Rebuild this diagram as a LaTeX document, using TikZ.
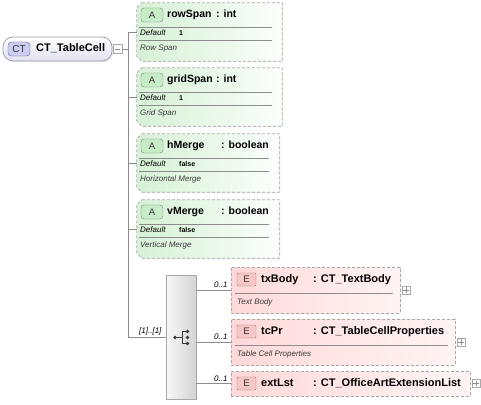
\documentclass[tikz,border=0pt]{standalone}
\usepackage{fontspec}
\setmainfont{Liberation Sans}
\usetikzlibrary{shadows}
\definecolor{linegray}{HTML}{8C8C8C}
\definecolor{boxgray}{HTML}{A8A8A8}
\definecolor{attrfill}{HTML}{D6F1D6}
\definecolor{attrbadge}{HTML}{C8ECC8}
\definecolor{attrbadgeb}{HTML}{6E8A6E}
\definecolor{elemfill}{HTML}{FFD9D9}
\definecolor{elembadge}{HTML}{F7C6C6}
\definecolor{elembadgeb}{HTML}{B07070}
\definecolor{rootfill}{HTML}{E2E2F0}
\definecolor{rootbadge}{HTML}{CDCDF2}
\definecolor{rootbadgeb}{HTML}{5E5E96}
\definecolor{seqfill}{HTML}{D4D4D4}
\definecolor{desccol}{HTML}{3A3A3A}
\definecolor{dotcol}{HTML}{3C3C3C}

\tikzset{
  conn/.style={draw=linegray, line width=0.8pt},
  sepline/.style={draw=linegray, line width=0.6pt},
  titletext/.style={font=\fontsize{11pt}{13pt}\selectfont\bfseries, inner sep=0pt, anchor=west, text height=8pt, text depth=2.3pt},
  atitletext/.style={font=\fontsize{10.5pt}{12.5pt}\selectfont\bfseries, inner sep=0pt, anchor=west, text height=8pt, text depth=2.3pt},
  deftext/.style={font=\fontsize{8pt}{9pt}\selectfont\itshape, inner sep=0pt, anchor=west, text height=6pt, text depth=1.6pt},
  defval/.style={font=\fontsize{7pt}{8pt}\selectfont\bfseries, inner sep=0pt, anchor=west, text height=5.2pt, text depth=1.4pt},
  desctext/.style={font=\fontsize{8pt}{9pt}\selectfont\itshape, text=desccol, inner sep=0pt, anchor=west, text height=6pt, text depth=1.6pt},
  cardtext/.style={font=\fontsize{8pt}{9pt}\selectfont\itshape, inner sep=0pt},
  attrnode/.style={rectangle, draw=none, inner sep=0pt, minimum height=58pt},
  attrshape/.style={draw=boxgray, dash pattern=on 3pt off 2pt, left color=attrfill, right color=attrfill!8, line width=0.7pt, drop shadow={shadow xshift=1.2pt, shadow yshift=-1.2pt, opacity=0.12}},
  abadge/.style={rectangle, rounded corners=3pt, draw=attrbadgeb, fill=attrbadge, minimum width=22pt, minimum height=14pt, inner sep=0pt, font=\fontsize{9.5pt}{11pt}\selectfont, text=black!80},
  elembox/.style={rectangle, draw=boxgray, dash pattern=on 3pt off 2pt, left color=elemfill, right color=elemfill!30, inner sep=0pt, line width=0.7pt, drop shadow={shadow xshift=1.2pt, shadow yshift=-1.2pt, opacity=0.12}},
  ebadge/.style={rectangle, rounded corners=1pt, draw=elembadgeb, fill=elembadge, minimum width=19pt, minimum height=13pt, inner sep=0pt, font=\fontsize{9.5pt}{11pt}\selectfont, text=black!80},
  rootbox/.style={rectangle, rounded corners=10pt, draw=boxgray!90!blue, top color=white, bottom color=rootfill, minimum width=109pt, minimum height=24pt, inner sep=0pt, line width=0.7pt, drop shadow={shadow xshift=1.2pt, shadow yshift=-1.2pt, opacity=0.15}},
  ctbadge/.style={rectangle, rounded corners=3.5pt, draw=rootbadgeb, fill=rootbadge, minimum width=22pt, minimum height=14pt, inner sep=0pt, font=\fontsize{10pt}{12pt}\selectfont, text=black!80},
  tinybox/.style={rectangle, draw=boxgray, fill=white, minimum width=8pt, minimum height=8pt, inner sep=0pt, line width=0.6pt},
  seqbox/.style={rectangle, draw=boxgray, left color=white!97!black, right color=seqfill, minimum width=30pt, minimum height=124pt, inner sep=0pt, line width=0.7pt},
}

\newcommand\attrib[9]{%
  \node[attrnode, minimum width=#4pt] (#1) at (#2,#3) {};
  \path[attrshape] ([xshift=5pt]#1.north west) -- (#1.north east) -- (#1.south east) -- ([xshift=5pt]#1.south west) -- ([yshift=5pt]#1.south west) -- ([yshift=-5pt]#1.north west) -- cycle;
  \node[abadge] (#1-badge) at (152,{#3-17}) {A};
  \node[atitletext] (#1-name) at (167,{#3-17}) {#5};
  \node[atitletext] (#1-type) at (#7,{#3-17}) {#6};
  \draw[sepline] (139,{#3-5}) -- ({#2+#4/2-10},{#3-5});
  \node[deftext] (#1-def) at (140,{#3+1.5}) {Default};
  \node[defval] (#1-val) at (179,{#3+1.5}) {#8};
  \draw[sepline] (139,{#3+8}) -- ({#2+#4/2-10},{#3+8});
  \node[desctext] (#1-desc) at (140,{#3+16.5}) {#9};
}

\newcommand\elem[7]{%
  \node[elembox, minimum width=#4pt, minimum height=#5pt] (#1) at (#2,#3) {};
  \node[ebadge] (#1-badge) at (246.5,{#3-#5/2+12.5}) {E};
  \node[titletext] (#1-name) at (261,{#3-#5/2+13}) {#6};
  \node[titletext] (#1-type) at (313,{#3-#5/2+13}) {#7};
  \node[tinybox] (#1-plus) at ({#2+#4/2+6},#3) {};
  \draw[draw=linegray, line width=0.6pt] ([xshift=1.5pt]#1-plus.west) -- ([xshift=-1.5pt]#1-plus.east);
  \draw[draw=linegray, line width=0.6pt] ([yshift=-1.5pt]#1-plus.north) -- ([yshift=1.5pt]#1-plus.south);
}

\begin{document}
\begin{tikzpicture}[x=1pt,y=-1pt]
\useasboundingbox (0,0) rectangle (481,404);

% root
\node[rootbox] (root) at (57.5,49) {};
\node[ctbadge] (rootbadge) at (19,49) {CT};
\node[titletext] (rootname) at (36,49) {CT\_TableCell};
\node[tinybox, minimum width=9pt, minimum height=9pt] (rootminus) at (117.5,49) {};
\draw[draw=linegray, line width=0.6pt] ([xshift=2pt]rootminus.west) -- ([xshift=-2pt]rootminus.east);

% attributes
\attrib{rowSpan}{209.5}{32}{145}{rowSpan}{: int}{216}{1}{Row Span}
\attrib{gridSpan}{209.5}{97}{145}{gridSpan}{: int}{216}{1}{Grid Span}
\attrib{hMerge}{208}{163}{142}{hMerge}{: boolean}{221}{false}{Horizontal Merge}
\attrib{vMerge}{208}{229}{142}{vMerge}{: boolean}{221}{false}{Vertical Merge}

% sequence compositor
\node[seqbox] (seq) at (181,337) {};
\fill[dotcol] (175,337.5) circle (1.8pt);
\draw[dotcol, line width=0.8pt] (175,337.5) -- (182,337.5);
\draw[dotcol, line width=0.8pt] (182,331.5) -- (182,343.5);
\draw[dotcol, line width=0.8pt] (182,331.5) -- (187.5,331.5);
\draw[dotcol, line width=0.8pt] (182,343.5) -- (187.5,343.5);
\fill[dotcol] (187.5,331.5) circle (1.8pt);
\fill[dotcol] (187.5,337.5) circle (1.8pt);
\fill[dotcol] (187.5,343.5) circle (1.8pt);

% elements
\elem{txBody}{315.5}{290}{169}{46}{txBody}{: CT\_TextBody}
\draw[sepline] (235,293) -- (393,293);
\node[desctext] (txBody-desc) at (237,302) {Text Body};
\elem{tcPr}{343}{342}{224}{46}{tcPr}{: CT\_TableCellProperties}
\draw[sepline] (235,345) -- (448,345);
\node[desctext] (tcPr-desc) at (237,354) {Table Cell Properties};
\elem{extLst}{350.5}{383.5}{239}{25}{extLst}{: CT\_OfficeArtExtensionList}

% connectors
\coordinate (tk0) at (128,49);
\coordinate (tkA) at (128,32);
\coordinate (tkE) at (128,337);
\draw[conn] (rootminus.east) -- (tk0);
\draw[conn] (tkA) -- (tkE);
\draw[conn] (rowSpan.west -| tkA) -- (rowSpan.west);
\draw[conn] (gridSpan.west -| tkA) -- (gridSpan.west);
\draw[conn] (hMerge.west -| tkA) -- (hMerge.west);
\draw[conn] (vMerge.west -| tkA) -- (vMerge.west);
\draw[conn] (seq.west -| tkA) -- (seq.west);
\node[cardtext, anchor=south east] (seqcard) at ([xshift=-4pt, yshift=1.5pt]seq.west) {[1]..[1]};

\draw[conn] (txBody.west -| seq.east) -- (txBody.west);
\draw[conn] (tcPr.west -| seq.east) -- (tcPr.west);
\draw[conn] (extLst.west -| seq.east) -- (extLst.west);
\node[cardtext, anchor=south east] (c1) at ([xshift=-3pt, yshift=2pt]txBody.west) {0..1};
\node[cardtext, anchor=south east] (c2) at ([xshift=-3pt, yshift=2pt]tcPr.west) {0..1};
\node[cardtext, anchor=south east] (c3) at ([xshift=-3pt, yshift=2pt]extLst.west) {0..1};
\end{tikzpicture}
\end{document}
